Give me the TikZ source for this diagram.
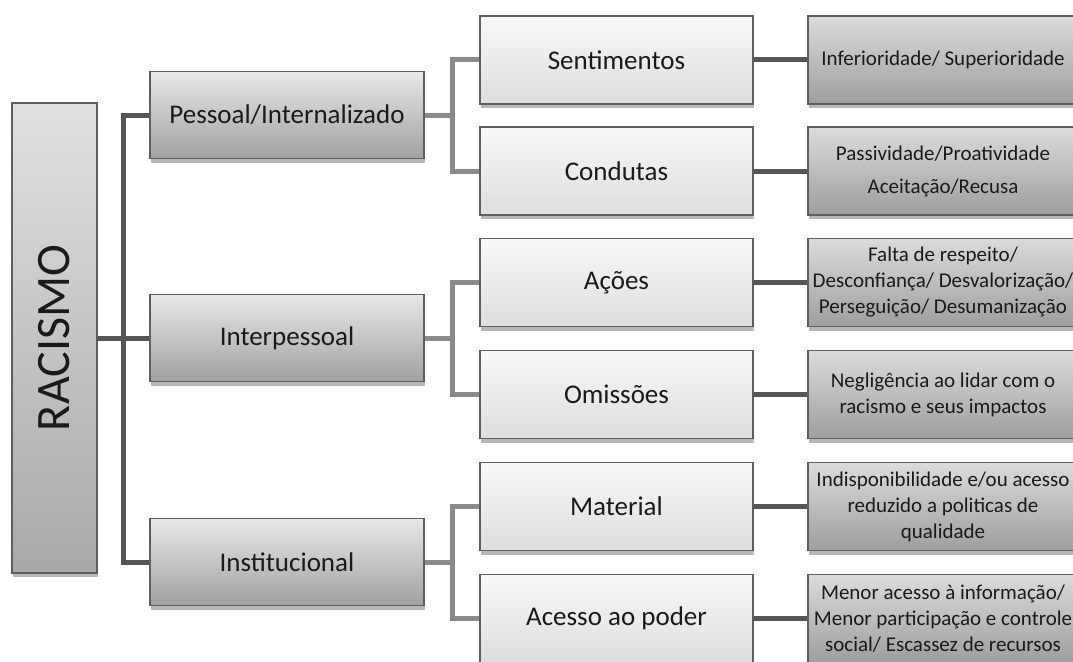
\documentclass[tikz,border=0pt]{standalone}
\usepackage{fontspec}
\setmainfont{Carlito}
\usetikzlibrary{shadows}

\definecolor{ink}{HTML}{1A1A1A}
\definecolor{edge}{HTML}{5E5E5E}
\definecolor{dk}{HTML}{555555}
\definecolor{md}{HTML}{8A8A8A}

\tikzset{
  box/.style={draw=edge, line width=1.4pt, inner sep=0pt, align=center, text=ink,
    drop shadow={shadow xshift=1pt, shadow yshift=-4pt, opacity=0.28, fill=black}},
  rootbox/.style={box, top color=white!88!black, bottom color=white!66!black,
    minimum width=85pt, minimum height=470pt},
  lvlone/.style={box, top color=white!91!black, bottom color=white!63!black,
    minimum width=274pt, minimum height=87pt, font=\fontsize{27}{32}\selectfont},
  lvltwo/.style={box, top color=white!97!black, bottom color=white!87!black,
    minimum width=273pt, minimum height=88pt, font=\fontsize{27}{32}\selectfont},
  lvlthree/.style={box, top color=white!86!black, bottom color=white!62!black,
    minimum width=270pt, minimum height=88pt, font=\fontsize{21}{26}\selectfont},
  trunk/.style={draw=dk, line width=5pt},
  branch/.style={draw=md, line width=5pt},
  leaf/.style={draw=dk, line width=5pt},
}

\begin{document}
\begin{tikzpicture}[x=1pt, y=-1pt]
  \fill[white] (0,0) rectangle (1073,661);
  \useasboundingbox (0,0) rectangle (1073,661);

  % root
  \node[rootbox] (rac) at (54.5,338) {\rotatebox{90}{\fontsize{48}{48}\selectfont RACISMO}};

  % first level
  \node[lvlone] (pes)   at (287,115) {Pessoal/Internalizado};
  \node[lvlone] (inter) at (287,338) {Interpessoal};
  \node[lvlone] (inst)  at (287,562) {Institucional};

  % second level
  \node[lvltwo] (sent)   at (616.5,60)    {Sentimentos};
  \node[lvltwo] (cond)   at (616.5,171)   {Condutas};
  \node[lvltwo] (acoes)  at (616.5,282.5) {Ações};
  \node[lvltwo] (omis)   at (616.5,394.5) {Omissões};
  \node[lvltwo] (mat)    at (616.5,506.5) {Material};
  \node[lvltwo] (poder)  at (616.5,618.5) {Acesso ao poder};

  % third level
  \node[lvlthree] (inf)  at (943,60)    {Inferioridade/ Superioridade};
  \node[lvlthree] (pas)  at (943,171)   {Passividade/Proatividade\\[7pt]Aceitação/Recusa};
  \node[lvlthree] (fal)  at (943,282.5) {Falta de respeito/\\Desconfiança/ Desvalorização/\\Perseguição/ Desumanização};
  \node[lvlthree] (neg)  at (943,394.5) {Negligência ao lidar com o\\racismo e seus impactos};
  \node[lvlthree] (ind)  at (943,506.5) {Indisponibilidade e/ou acesso\\reduzido a politicas de\\qualidade};
  \node[lvlthree] (men)  at (943,618.5) {Menor acesso à informação/\\Menor participação e controle\\social/ Escassez de recursos};

  % junction points
  \coordinate (hub) at (123,338);
  \coordinate (b1) at (452,115);
  \coordinate (b2) at (452,338);
  \coordinate (b3) at (452,562);

  % root to first level
  \draw[trunk] (rac.east) -- (inter.west);
  \draw[trunk] (pes.west) -| (hub) |- (inst.west);

  % first level to second level
  \draw[branch] (pes.east) -- (b1);
  \draw[branch] (sent.west) -| (b1) |- (cond.west);
  \draw[branch] (inter.east) -- (b2);
  \draw[branch] (acoes.west) -| (b2) |- (omis.west);
  \draw[branch] (inst.east) -- (b3);
  \draw[branch] (mat.west) -| (b3) |- (poder.west);

  % second level to third level
  \draw[leaf] (sent.east) -- (inf.west);
  \draw[leaf] (cond.east) -- (pas.west);
  \draw[leaf] (acoes.east) -- (fal.west);
  \draw[leaf] (omis.east) -- (neg.west);
  \draw[leaf] (mat.east) -- (ind.west);
  \draw[leaf] (poder.east) -- (men.west);
\end{tikzpicture}
\end{document}
